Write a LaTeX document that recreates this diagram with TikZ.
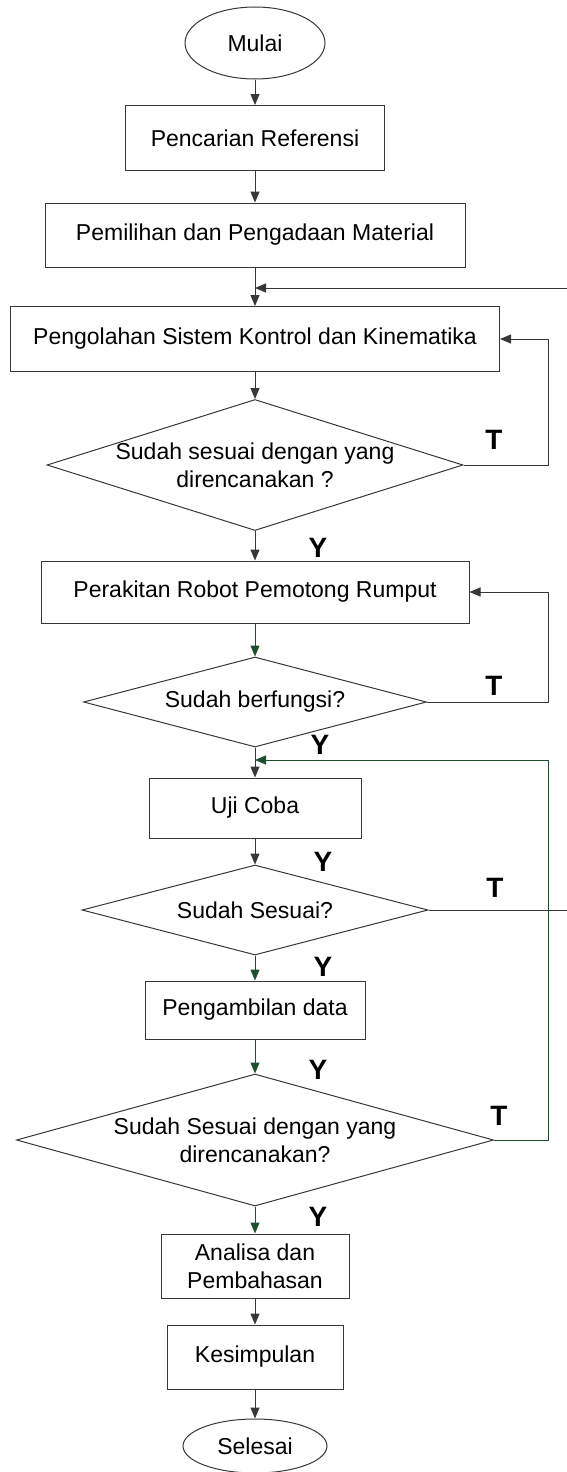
\documentclass[tikz,border=0pt]{standalone}
\usepackage{fontspec}
\setmainfont{Liberation Sans}
\usetikzlibrary{arrows.meta,shapes.geometric}
\definecolor{loopgreen}{RGB}{30,80,48}
\definecolor{linegray}{RGB}{55,55,55}

\begin{document}
\begin{tikzpicture}[x=1pt, y=-1pt, font=\fontsize{23}{28}\selectfont,
  box/.style={draw=linegray, line width=1pt, rectangle, inner sep=0pt, align=center},
  term/.style={draw=linegray, line width=1pt, ellipse, inner sep=0pt},
  decision/.style={draw=linegray, line width=1pt, diamond, inner sep=0pt},
  dtext/.style={align=center, inner sep=0pt},
  answer/.style={font=\fontsize{28}{32}\selectfont\bfseries, inner sep=0pt},
  arr/.style={draw=linegray, line width=1pt, -{Triangle[length=11pt,width=9pt]}},
  arrg/.style={draw=loopgreen, line width=1pt, -{Triangle[length=11pt,width=9pt]}}]

\useasboundingbox (0,0) rectangle (567,1472);

% ==== Main column ====
\node[term, minimum width=140pt, minimum height=72pt] (mulai) at (255,43) {Mulai};
\node[box, minimum width=259pt, minimum height=65pt] (pencarian) at (255,138) {Pencarian Referensi};
\node[box, minimum width=420pt, minimum height=64pt] (pemilihan) at (255,235) {Pemilihan dan Pengadaan Material};
\node[box, minimum width=489pt, minimum height=65pt] (pengolahan) at (255,339) {Pengolahan Sistem Kontrol dan Kinematika};

% first check
\node[decision, minimum width=416pt, minimum height=131pt] (d1) at (255,465) {};
\node[dtext] (d1txt) at (d1) {Sudah sesuai dengan yang\\direncanakan ?};

\node[box, minimum width=428pt, minimum height=62pt] (perakitan) at (255,592) {Perakitan Robot Pemotong Rumput};

% second check
\node[decision, minimum width=343pt, minimum height=90pt] (d2) at (255,702) {};
\node[dtext] (d2txt) at (d2) {Sudah berfungsi?};

\node[box, minimum width=212pt, minimum height=60pt] (ujicoba) at (255,808) {Uji Coba};

% third check
\node[decision, minimum width=346pt, minimum height=90pt] (d3) at (255,910) {};
\node[dtext] (d3txt) at (d3) {Sudah Sesuai?};

\node[box, minimum width=220pt, minimum height=58pt] (ambil) at (255,1010) {Pengambilan data};

% fourth check
\node[decision, minimum width=477pt, minimum height=132pt] (d4) at (255,1140) {};
\node[dtext] (d4txt) at (d4) {Sudah Sesuai dengan yang\\direncanakan?};

\node[box, minimum width=188pt, minimum height=64pt] (analisa) at (255,1266) {Analisa dan\\Pembahasan};
\node[box, minimum width=176pt, minimum height=64pt] (simpul) at (255,1357) {Kesimpulan};
\node[term, minimum width=144pt, minimum height=54pt] (selesai) at (255,1446) {Selesai};

% ==== Straight arrows ====
\draw[arr] (mulai) -- (pencarian);
\draw[arr] (pencarian) -- (pemilihan);
\draw[arr] (pemilihan) -- (pengolahan);
\draw[arr] (pengolahan) -- (d1);
\draw[arr] (d1) -- (perakitan);
\draw[arrg] (perakitan) -- (d2);
\draw[arr] (d2) -- (ujicoba);
\draw[arr] (ujicoba) -- (d3);
\draw[arrg] (d3) -- (ambil);
\draw[arrg] (ambil) -- (d4);
\draw[arrg] (d4) -- (analisa);
\draw[arr] (analisa) -- (simpul);
\draw[arr] (simpul) -- (selesai);

% ==== Loops back ====
\coordinate (jtop) at (255,288);
\coordinate (jgreen) at (255,760);
\draw[arr] (d1.east) -- ++(85,0) |- (pengolahan.east);
\draw[arr] (d2.east) -- ++(121,0) |- (perakitan.east);
\draw[arr] (d3.east) -- ++(142,0) |- (jtop);
\draw[arrg] (d4.east) -- ++(54,0) |- (jgreen);

% T / Y labels
\foreach \x/\y [count=\i] in {494/440, 494/686, 495/888, 499/1116}
    \node[answer] (t\i) at (\x,\y) {T};
\foreach \x/\y [count=\i] in {318/548, 320/745, 323/862, 323/967, 318/1070, 318/1217}
    \node[answer] (y\i) at (\x,\y) {Y};

\end{tikzpicture}
\end{document}
